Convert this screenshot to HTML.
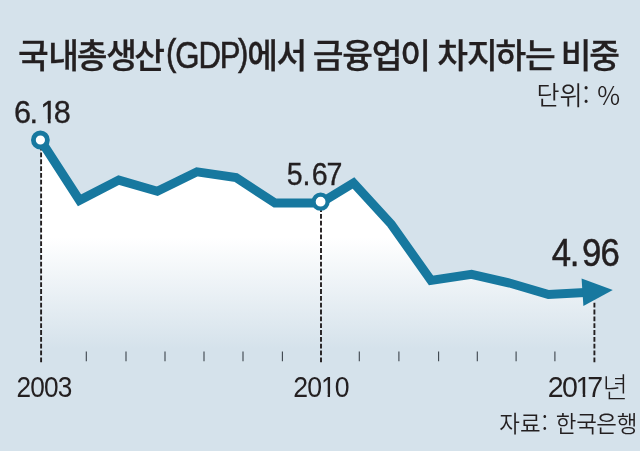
<!DOCTYPE html>
<html lang="ko">
<head>
<meta charset="utf-8">
<title>국내총생산(GDP)에서 금융업이 차지하는 비중</title>
<style>
html,body{margin:0;padding:0;background:#d5e2eb;}
body{width:640px;height:451px;overflow:hidden;position:relative;}
svg{display:block;position:absolute;left:0;top:0;}
text{font-family:"Liberation Sans","Noto Sans CJK KR",sans-serif;fill:#231f20;}
.ko{font-family:"Noto Sans CJK KR","Liberation Sans",sans-serif;}
.t{font-weight:500;}
</style>
</head>
<body>
<svg width="640" height="451" viewBox="0 0 640 451">
  <defs>
    <linearGradient id="g" x1="0" y1="140" x2="0" y2="362" gradientUnits="userSpaceOnUse">
      <stop offset="0" stop-color="#ffffff"/>
      <stop offset="0.44" stop-color="#ffffff"/>
      <stop offset="0.94" stop-color="#d5e2eb"/>
      <stop offset="1" stop-color="#d5e2eb"/>
    </linearGradient>
  </defs>
  <rect x="0" y="0" width="640" height="451" fill="#d5e2eb"/>
  <path fill="url(#g)" d="M40.5,140 L79.5,200.3 L118.8,180.1 L157.3,191.3 L197,171.8 L236,177.5 L275,203 L320.5,203 L353.5,183 L391.3,224.3 L431,280.4 L471.5,274.4 L509.5,283 L548.5,294.5 L594.4,292 L594.4,362 L41.1,362 L41.1,141 Z"/>
  <g stroke="#231f20" stroke-width="1.9" stroke-dasharray="4.8 2.03" fill="none">
    <line x1="41.1" y1="362.2" x2="41.1" y2="148"/>
    <line x1="321" y1="362.2" x2="321" y2="209"/>
    <line x1="594.4" y1="362.2" x2="594.4" y2="302"/>
  </g>
  <g stroke="#3c444c" stroke-width="1.1" fill="none">
    <path d="M86.3,351.5v9.8 M126,351.5v9.8 M165,351.5v9.8 M204,351.5v9.8 M243,351.5v9.8 M282.4,351.5v9.8 M359.3,351.5v9.8 M398.9,351.5v9.8 M438.6,351.5v9.8 M477.3,351.5v9.8 M516.1,351.5v9.8 M554.9,351.5v9.8"/>
  </g>
  <path fill="none" stroke="#17789f" stroke-width="9.0" stroke-linejoin="miter" stroke-miterlimit="10" d="M40.5,140 L79.5,200.3 L118.8,180.1 L157.3,191.3 L197,171.8 L236,177.5 L275,203 L320.5,203 L353.5,183 L391.3,224.3 L431,280.4 L471.5,274.4 L509.5,283 L548.5,294.5 L585,292.5"/>
  <polygon fill="#17789f" points="581.6,278.4 612.8,289.9 583.4,306"/>
  <circle cx="40.4" cy="140" r="7" fill="#fff" stroke="#17789f" stroke-width="4.8"/>
  <circle cx="320.6" cy="201.7" r="7" fill="#fff" stroke="#17789f" stroke-width="4.2"/>
  <text class="ko t" transform="scale(0.982,1)" x="18.41 49.16 78.28 108.2 136.76" y="68.2" font-size="34.0" stroke="#231f20" stroke-width="0.3">국내총생산</text>
  <text transform="scale(0.857,1)" x="193.58 204.61 231.62 256.51 277.8" y="65.2 68.1 68.1 68.1 65.2" font-size="36.4" stroke="#231f20" stroke-width="0.6">(GDP)</text>
  <text class="ko t" transform="scale(0.982,1)" x="251.68 281.57 286.6 318.46 348.6 378.67 407.71 412.7 445.29 475.53 504.61 534.57 539.6 570.98 600.15" y="68.2" font-size="34.0" stroke="#231f20" stroke-width="0.3">에서 금융업이 차지하는 비중</text>
  <text class="ko" font-weight="350" transform="scale(0.974,1)" x="550.82 574.54 598.43 603.4 613.09" y="104.8" font-size="25.7">단위: %</text>
  <text transform="scale(0.976,1)" x="14.4 30.23 41.17 55.02" y="122.7" font-size="31.4" stroke="#231f20" stroke-width="0.35">6.18</text>
  <text transform="scale(0.897,1)" x="319.73 337.32 347.46 364.05" y="184.7" font-size="31.9" stroke="#231f20" stroke-width="0.35">5.67</text>
  <text transform="scale(0.898,1)" x="614.56 634.6 648.11 668.62" y="266.5" font-size="38.7" stroke="#231f20" stroke-width="0.5">4.96</text>
  <text transform="scale(0.896,1)" x="18.42 33.9 49.25 64.59" y="397.0" font-size="29.3">2003</text>
  <text transform="scale(0.91,1)" x="322.28 337.77 352.68 367.99" y="397.0" font-size="29.3">2010</text>
  <text transform="scale(0.975,1)" x="561.9 576.49 590.35 602.41" y="397.0" font-size="29.3">2017<tspan class="ko" font-weight="300" font-size="28.4" x="617.92" y="398.4">년</tspan></text>
  <text class="ko" font-weight="350" transform="scale(0.977,1)" x="511.0 532.16 554.63 559.6 568.73 589.89 610.21 631.19" y="432.2" font-size="23.0">자료: 한국은행</text>
  <g fill="#d5e2eb"><rect x="41.60" y="119.35" width="6.28" height="4.85"/><rect x="50.60" y="119.35" width="5.82" height="4.85"/><rect x="322.18" y="393.81" width="5.47" height="4.69"/><rect x="330.00" y="393.81" width="5.06" height="4.69"/><rect x="576.92" y="393.81" width="5.86" height="4.69"/><rect x="585.30" y="393.81" width="5.43" height="4.69"/></g>
</svg>
</body>
</html>
